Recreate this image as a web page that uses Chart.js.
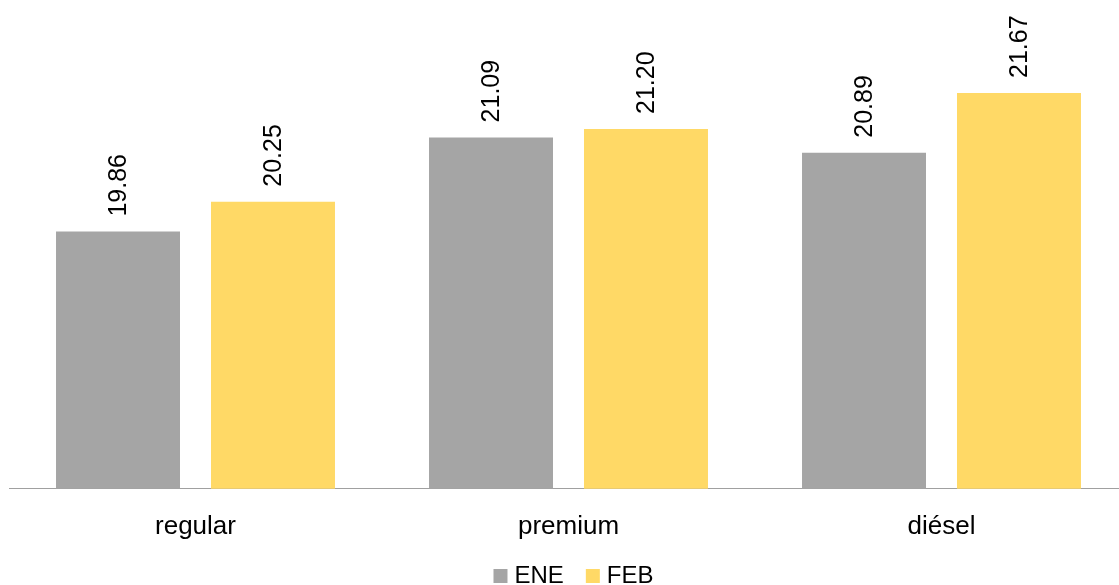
<!DOCTYPE html>
<html>
<head>
<meta charset="utf-8">
<script src="https://cdn.jsdelivr.net/npm/chart.js@4/dist/chart.umd.min.js"></script>
<style>
  html, body { margin: 0; padding: 0; overflow: hidden; background: #fff; }
  #wrap { width: 1128px; height: 585px; }
</style>
</head>
<body>
<div id="wrap"><canvas id="chart"></canvas></div>
<script>
"use strict";

const categories = ['regular', 'premium', 'diésel'];
const ene = [19.86, 21.09, 20.89];
const feb = [20.25, 21.20, 21.67];

const FONT = '"Liberation Sans", Arial, sans-serif';

// rotated value labels above each bar
const barLabels = {
  id: 'barLabels',
  afterDatasetsDraw(chart) {
    const ctx = chart.ctx;
    ctx.save();
    ctx.font = '25px ' + FONT;
    ctx.fillStyle = '#000';
    ctx.textAlign = 'left';
    ctx.textBaseline = 'middle';
    chart.data.datasets.forEach((ds, i) => {
      chart.getDatasetMeta(i).data.forEach((bar, j) => {
        ctx.save();
        ctx.translate(bar.x + 1, bar.y - 15);
        ctx.rotate(-Math.PI / 2);
        ctx.fillText(ds.data[j].toFixed(2), 0, 0);
        ctx.restore();
      });
    });
    ctx.restore();
  }
};

// legend drawn by hand: square boxes sitting on the text baseline
const bottomLegend = {
  id: 'bottomLegend',
  afterDraw(chart) {
    const ctx = chart.ctx;
    const box = 14, gapText = 7, gapItem = 22;
    const baseY = chart.height - 2;
    ctx.save();
    ctx.font = '24px ' + FONT;
    ctx.textBaseline = 'alphabetic';
    const items = chart.data.datasets.map(ds => ({
      text: ds.label, color: ds.backgroundColor, w: ctx.measureText(ds.label).width
    }));
    let total = items.reduce((s, it) => s + box + gapText + it.w, 0) + gapItem * (items.length - 1);
    const mid = (chart.chartArea.left + chart.chartArea.right) / 2 + 5;
    let x = mid - total / 2;
    items.forEach(it => {
      ctx.fillStyle = it.color;
      ctx.fillRect(x, baseY - box, box, box);
      x += box + gapText;
      ctx.fillStyle = '#000';
      ctx.fillText(it.text, x, baseY);
      x += it.w + gapItem;
    });
    ctx.restore();
  }
};

new Chart(document.getElementById('chart'), {
  type: 'bar',
  data: {
    labels: categories,
    datasets: [
      { label: 'ENE', data: ene, backgroundColor: '#A5A5A5' },
      { label: 'FEB', data: feb, backgroundColor: '#FFD966' },
    ]
  },
  options: {
    responsive: true,
    maintainAspectRatio: false,
    animation: false,
    categoryPercentage: 0.831,
    barPercentage: 0.8,
    layout: { padding: { left: 9, right: 0, top: 8, bottom: 29 } },
    scales: {
      y: { display: false, min: 16.5, max: 22.78 },
      x: {
        grid: { display: false },
        border: { color: '#A0A0A0', width: 1 },
        ticks: {
          color: '#000',
          padding: 14,
          font: { family: FONT, size: 26 }
        }
      }
    },
    plugins: {
      tooltip: { enabled: false },
      legend: { display: false }
    }
  },
  plugins: [barLabels, bottomLegend]
});
</script>
</body>
</html>
